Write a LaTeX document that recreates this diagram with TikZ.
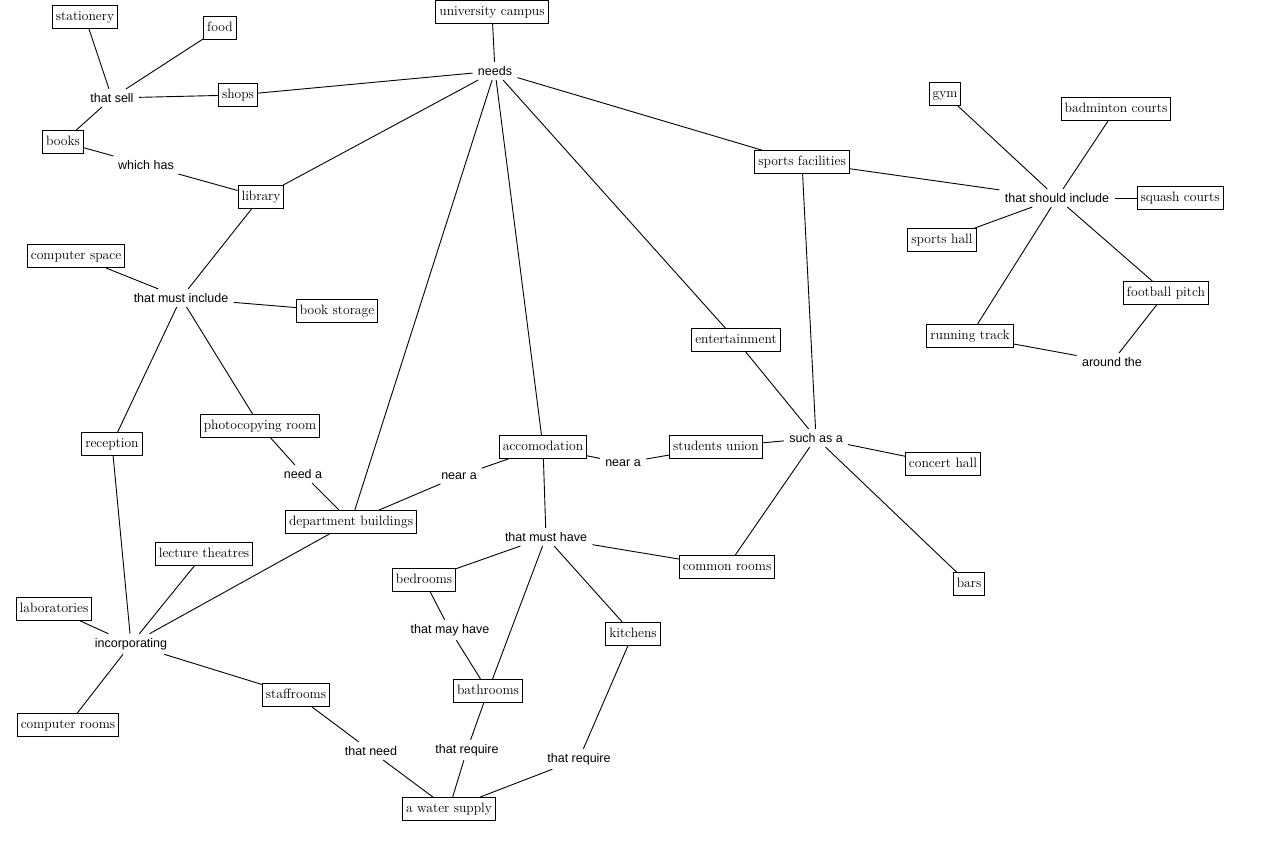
\documentclass[tikz,border=0pt]{standalone}
\usepackage{fontspec}
\newfontfamily\linkfont{Liberation Sans}
\begin{document}
\begin{tikzpicture}[x=1pt,y=-1pt,
  concept/.style={draw, line width=0.9pt, font=\fontsize{13.6}{15}\selectfont, inner xsep=3.5pt, inner ysep=0pt, text height=10pt, text depth=3.5pt, minimum height=23pt},
  link/.style={font=\linkfont\fontsize{12.5}{14}\selectfont, inner xsep=5pt, inner ysep=4pt},
  every path/.style={line width=0.9pt}]
\useasboundingbox (0,0) rectangle (1266,862);
% concepts
\node[concept] (stat) at (85,17) {stationery};
\node[concept] (food) at (220,28) {food};
\node[concept] (shops) at (238,95) {shops};
\node[concept] (books) at (63,142) {books};
\node[concept] (lib) at (261,197) {library};
\node[concept] (uc) at (492,12) {university campus};
\node[concept] (sf) at (802,162) {sports facilities};
\node[concept] (gym) at (945,94) {gym};
\node[concept] (bad) at (1116,109) {badminton courts};
\node[concept] (squash) at (1180,198) {squash courts};
\node[concept] (shall) at (942,240) {sports hall};
\node[concept] (fp) at (1166,293) {football pitch};
\node[concept] (rt) at (970,336) {running track};
\node[concept] (cs) at (76,256) {computer space};
\node[concept] (bs) at (337,311) {book storage};
\node[concept] (rec) at (112,444) {reception};
\node[concept] (pr) at (260,426) {photocopying room};
\node[concept] (db) at (351,522) {department buildings};
\node[concept] (acc) at (543,447) {accomodation};
\node[concept] (su) at (716,447) {students union};
\node[concept] (ent) at (736,340) {entertainment};
\node[concept] (ch) at (943,464) {concert hall};
\node[concept] (cr) at (727,567) {common rooms};
\node[concept] (bars) at (969,584) {bars};
\node[concept] (lt) at (204,554) {lecture theatres};
\node[concept] (lab) at (54,609) {laboratories};
\node[concept] (comp) at (68,725) {computer rooms};
\node[concept] (staff) at (296,695) {staffrooms};
\node[concept] (bed) at (424,580) {bedrooms};
\node[concept] (kit) at (633,634) {kitchens};
\node[concept] (bath) at (488,691) {bathrooms};
\node[concept] (ws) at (449,809) {a water supply};
% linking phrases
\node[link] (needs) at (495,71) {needs};
\node[link] (sell) at (112,98) {that sell};
\node[link] (which) at (146,165) {which has};
\node[link] (should) at (1057,198) {that should include};
\node[link] (around) at (1112,362) {around the};
\node[link] (mustinc) at (181,298) {that must include};
\node[link] (needa) at (303,474) {need a};
\node[link] (neara1) at (459,476) {near a};
\node[link] (neara2) at (623,463) {near a};
\node[link] (such) at (816,438) {such as a};
\node[link] (musthave) at (546,537) {that must have};
\node[link] (mayhave) at (450,630) {that may have};
\node[link] (incorp) at (131,644) {incorporating};
\node[link] (tneed) at (371,751) {that need};
\node[link] (treq1) at (467,750) {that require};
\node[link] (treq2) at (579,759) {that require};
% connectors
\draw (uc) -- (needs);
\draw (needs) -- (shops);
\draw (needs) -- (lib);
\draw (needs) -- (db);
\draw (needs) -- (acc);
\draw (needs) -- (ent);
\draw (needs) -- (sf);
\draw (shops) -- (sell);
\draw (sell) -- (stat);
\draw (sell) -- (food);
\draw (sell) -- (books);
\draw (books) -- (which);
\draw (which) -- (lib);
\draw (lib) -- (mustinc);
\draw (mustinc) -- (cs);
\draw (mustinc) -- (bs);
\draw (mustinc) -- (rec);
\draw (mustinc) -- (pr);
\draw (pr) -- (needa);
\draw (needa) -- (db);
\draw (db) -- (neara1);
\draw (neara1) -- (acc);
\draw (acc) -- (neara2);
\draw (neara2) -- (su);
\draw (su) -- (such);
\draw (ent) -- (such);
\draw (sf) -- (such);
\draw (such) -- (ch);
\draw (such) -- (cr);
\draw (such) -- (bars);
\draw (sf) -- (should);
\draw (should) -- (gym);
\draw (should) -- (bad);
\draw (should) -- (squash);
\draw (should) -- (shall);
\draw (should) -- (fp);
\draw (should) -- (rt);
\draw (fp) -- (around);
\draw (around) -- (rt);
\draw (acc) -- (musthave);
\draw (musthave) -- (bed);
\draw (musthave) -- (bath);
\draw (musthave) -- (kit);
\draw (musthave) -- (cr);
\draw (bed) -- (mayhave);
\draw (mayhave) -- (bath);
\draw (db) -- (incorp);
\draw (rec) -- (incorp);
\draw (incorp) -- (lt);
\draw (incorp) -- (lab);
\draw (incorp) -- (comp);
\draw (incorp) -- (staff);
\draw (staff) -- (tneed);
\draw (tneed) -- (ws);
\draw (bath) -- (treq1);
\draw (treq1) -- (ws);
\draw (kit) -- (treq2);
\draw (treq2) -- (ws);
\end{tikzpicture}
\end{document}
